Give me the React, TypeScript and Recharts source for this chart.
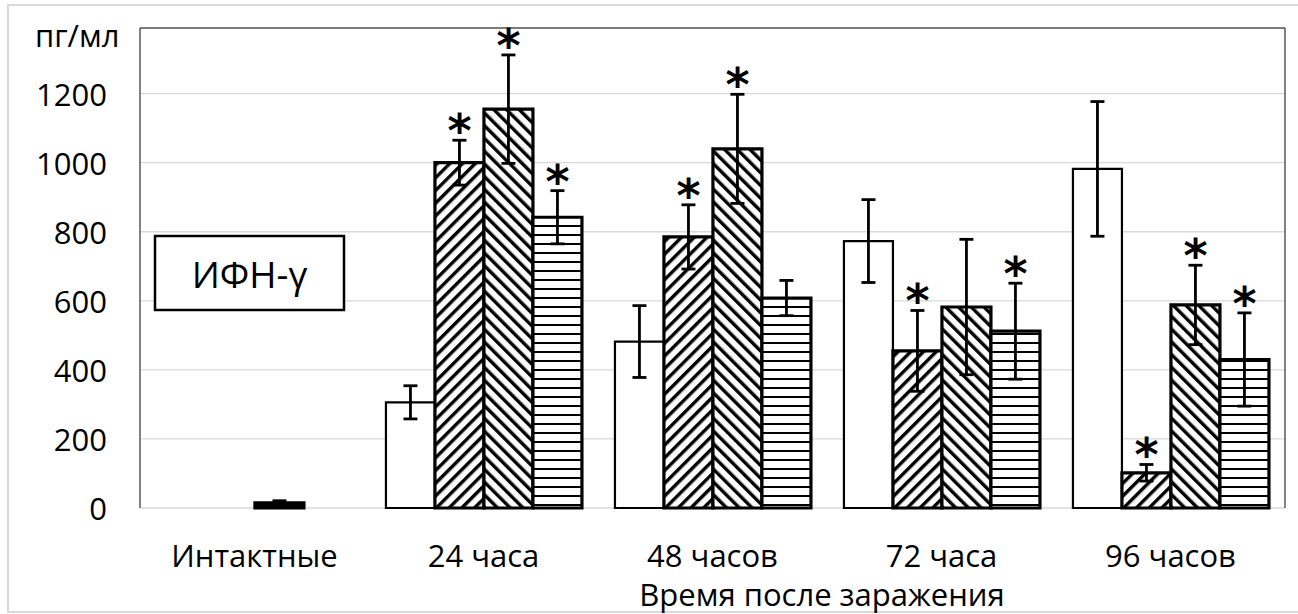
import React from 'react';
import { BarChart, Bar, XAxis, YAxis, CartesianGrid, ErrorBar, LabelList, ReferenceLine, Cell } from 'recharts';

const categories = ['Интактные', '24 часа', '48 часов', '72 часа', '96 часов'];
const seriesA = [null, 306, 482, 773, 982];
const errorsA = [null, 48, 104, 120, 195];
const seriesB = [null, 1000, 785, 455, 102];
const errorsB = [null, 65, 93, 117, 24];
const seriesC = [15, 1155, 1040, 582, 588];
const errorsC = [6, 157, 158, 196, 115];
const seriesD = [null, 842, 608, 512, 430];
const errorsD = [null, 77, 51, 139, 135];
const markB = [false, true, true, true, true];
const markC = [false, true, true, false, true];
const markD = [false, true, false, true, true];
const yTicks = [0, 200, 400, 600, 800, 1000, 1200];
const yMax = 1390;
const yUnit = 'пг/мл';
const xTitle = 'Время после заражения';
const boxLabel = 'ИФН-γ';

const data = categories.map((cat, i) => ({
  cat,
  a: seriesA[i], ea: errorsA[i],
  b: seriesB[i], eb: errorsB[i],
  c: seriesC[i], ec: errorsC[i],
  d: seriesD[i], ed: errorsD[i],
}));

const FONT = '"Open Sans", sans-serif';
const FS = 31;

const XTick = (props: any) => {
  const { x, y, payload } = props;
  return (
    <text x={x} y={y + 47} textAnchor="middle" dominantBaseline="central" fontFamily={FONT} fontSize={FS} fill="#000">
      {payload.value}
    </text>
  );
};

const YTick = (props: any) => {
  const { x, y, payload } = props;
  return (
    <text x={x - 33} y={y} textAnchor="end" dominantBaseline="central" fontFamily={FONT} fontSize={FS} fill="#000">
      {payload.value}
    </text>
  );
};

const makeStar = (vals: (number | null)[], errs: (number | null)[], marks: boolean[]) => (props: any) => {
  const { x, y, width, height, value } = props;
  const i = categories.indexOf(value);
  if (i < 0 || !marks[i]) return null;
  const v = vals[i];
  if (v == null || !v) return null;
  const err = errs[i] ?? 0;
  const capY = y - (err * height) / v;
  const cy = capY - 18;
  return (
    <text x={x + width / 2} y={cy + 25} textAnchor="middle" fontFamily='"DejaVu Sans", sans-serif' fontWeight="bold" fontSize={46} fill="#000">
      *
    </text>
  );
};

export default function App() {
  return (
    <div style={{ position: 'absolute', left: 0, top: 0, width: 1298, height: 614, background: '#fff', overflow: 'hidden' }}>
      <svg width={0} height={0} style={{ position: 'absolute' }}>
        <defs>
          <pattern id="fwd" patternUnits="userSpaceOnUse" width={9} height={9} patternTransform="rotate(45)">
            <rect x={0} y={0} width={9} height={9} fill="#fff" />
            <rect x={0} y={0} width={3.4} height={9} fill="#000" />
          </pattern>
          <pattern id="bwd" patternUnits="userSpaceOnUse" width={9} height={9} patternTransform="rotate(-45)">
            <rect x={0} y={0} width={9} height={9} fill="#fff" />
            <rect x={0} y={0} width={3.4} height={9} fill="#000" />
          </pattern>
          <pattern id="hor" patternUnits="userSpaceOnUse" width={9} height={9}>
            <rect x={0} y={0} width={9} height={9} fill="#fff" />
            <rect x={0} y={0} width={9} height={2} fill="#000" />
          </pattern>
        </defs>
      </svg>
      <BarChart
        width={1298}
        height={614}
        data={data}
        margin={{ top: 28, right: 12, bottom: 46, left: 40 }}
        barCategoryGap="7.4%"
        barGap={0}
      >
        <CartesianGrid horizontal vertical={false} stroke="#d9d9d9" strokeWidth={1.3} />
        <XAxis dataKey="cat" height={60} axisLine={false} tickLine={false} tickSize={0} tickMargin={0} tick={<XTick />} interval={0} />
        <YAxis domain={[0, yMax]} ticks={yTicks} width={100} tickSize={0} tickMargin={0} tickLine={false} axisLine={{ stroke: '#595959', strokeWidth: 1.5 }} tick={<YTick />} />
        <YAxis yAxisId="r" orientation="right" width={1} tick={false} tickLine={false} axisLine={{ stroke: '#595959', strokeWidth: 1.5 }} />
        <ReferenceLine y={yMax} stroke="#595959" strokeWidth={1.5} />
        <Bar dataKey="a" fill="#fff" stroke="#000" strokeWidth={2.2} isAnimationActive={false}>
          <ErrorBar dataKey="ea" width={7} stroke="#000" strokeWidth={2.8} />
        </Bar>
        <Bar dataKey="b" fill="url(#fwd)" stroke="#000" strokeWidth={3.2} isAnimationActive={false}>
          <ErrorBar dataKey="eb" width={7} stroke="#000" strokeWidth={2.8} />
          <LabelList dataKey="cat" content={makeStar(seriesB, errorsB, markB)} />
        </Bar>
        <Bar dataKey="c" fill="url(#bwd)" stroke="#000" strokeWidth={3.2} isAnimationActive={false}>
          {categories.map((c, i) => (
            <Cell key={c} fill={i === 0 ? '#000' : 'url(#bwd)'} />
          ))}
          <ErrorBar dataKey="ec" width={7} stroke="#000" strokeWidth={2.8} />
          <LabelList dataKey="cat" content={makeStar(seriesC, errorsC, markC)} />
        </Bar>
        <Bar dataKey="d" fill="url(#hor)" stroke="#000" strokeWidth={3.2} isAnimationActive={false}>
          <ErrorBar dataKey="ed" width={7} stroke="#000" strokeWidth={2.8} />
          <LabelList dataKey="cat" content={makeStar(seriesD, errorsD, markD)} />
        </Bar>
      </BarChart>
      <svg width={1298} height={614} style={{ position: 'absolute', left: 0, top: 0, pointerEvents: 'none' }}>
        <rect x={8} y={5} width={1300} height={607} fill="none" stroke="#d9d9d9" strokeWidth={2} />
        <text x={35} y={35} dominantBaseline="central" fontFamily={FONT} fontSize={FS} fill="#000">{yUnit}</text>
        <text x={822} y={594} textAnchor="middle" dominantBaseline="central" fontFamily={FONT} fontSize={FS} fill="#000">{xTitle}</text>
        <rect x={155} y={236} width={189} height={74} fill="#fff" stroke="#000" strokeWidth={2.5} />
        <text x={249.5} y={273} textAnchor="middle" dominantBaseline="central" fontFamily={FONT} fontSize={37} fill="#000">{boxLabel}</text>
      </svg>
    </div>
  );
}
